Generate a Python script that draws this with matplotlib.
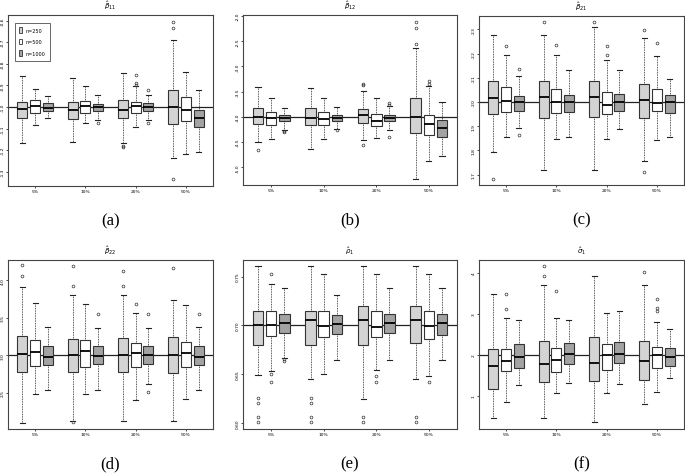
import matplotlib
matplotlib.use('Agg')
import matplotlib.pyplot as plt
from matplotlib.patches import Patch

# groups and sample sizes
groups = ['5%', '10%', '20%', '50%']
sizes = ['n=250', 'n=500', 'n=1000']
box_colors = ['#d3d3d3', '#ffffff', '#a3a3a3']

# order of boxes: 5% (250,500,1000), 10% (...), 20% (...), 50% (...)
# panel (a) beta11
a_lo = [-1.167, -1.082, -1.051, -1.163, -1.075, -1.059, -1.168, -1.094, -1.059, -1.238, -1.218, -1.207]
a_q1 = [-1.052, -1.029, -1.017, -1.056, -1.029, -1.019, -1.051, -1.029, -1.019, -1.080, -1.065, -1.091]
a_med = [-1.009, -0.997, -1.005, -1.012, -0.997, -1.001, -1.012, -0.997, -1.001, -1.001, -1.014, -1.051]
a_q3 = [-0.975, -0.968, -0.983, -0.978, -0.974, -0.988, -0.966, -0.977, -0.983, -0.923, -0.955, -1.015]
a_hi = [-0.858, -0.917, -0.950, -0.867, -0.904, -0.946, -0.843, -0.904, -0.943, -0.690, -0.839, -0.920]
a_out = [[], [], [], [], [], [-1.075], [-1.179, -1.187], [-0.852, -0.890, -0.898], [-0.921, -1.075],
         [-0.605, -0.636, -1.333], [], []]
a_ticks = [-1.3, -1.2, -1.1, -1.0, -0.9, -0.8, -0.7, -0.6]
a_ticklabels = ['-1.3', '-1.2', '-1.1', '-1.0', '-0.9', '-0.8', '-0.7', '-0.6']

# panel (b) beta12
b_lo = [-4.50, -4.44, -4.25, -4.63, -4.44, -4.24, -4.46, -4.42, -4.26, -5.23, -4.88, -4.78]
b_q1 = [-4.14, -4.16, -4.09, -4.16, -4.16, -4.09, -4.12, -4.18, -4.09, -4.32, -4.36, -4.39]
b_med = [-4.01, -4.02, -4.02, -4.02, -4.04, -4.03, -3.97, -4.09, -4.02, -4.01, -4.14, -4.22]
b_q3 = [-3.83, -3.91, -3.97, -3.83, -3.91, -3.97, -3.84, -3.95, -3.97, -3.63, -3.97, -4.07]
b_hi = [-3.41, -3.62, -3.83, -3.43, -3.62, -3.81, -3.48, -3.62, -3.79, -2.64, -3.39, -3.71]
b_out = [[-4.65], [], [-4.27, -4.29], [], [], [-4.26], [-3.35, -3.37, -4.56], [], [-3.73, -3.76, -4.39],
         [-2.12, -2.23, -2.55], [-3.29, -3.35], []]
b_ticks = [-5.0, -4.5, -4.0, -3.5, -3.0, -2.5, -2.0]
b_ticklabels = ['-5.0', '-4.5', '-4.0', '-3.5', '-3.0', '-2.5', '-2.0']

# panel (c) beta21
c_lo = [1.795, 1.854, 1.893, 1.719, 1.847, 1.857, 1.719, 1.847, 1.890, 1.756, 1.844, 1.854]
c_q1 = [1.950, 1.960, 1.962, 1.934, 1.953, 1.957, 1.939, 1.950, 1.964, 1.934, 1.962, 1.953]
c_med = [2.017, 2.003, 2.001, 2.019, 1.999, 1.999, 2.019, 1.989, 1.999, 2.008, 1.996, 1.999]
c_q3 = [2.088, 2.063, 2.024, 2.087, 2.054, 2.029, 2.088, 2.043, 2.033, 2.074, 2.054, 2.029]
c_hi = [2.278, 2.195, 2.109, 2.277, 2.195, 2.133, 2.309, 2.175, 2.133, 2.263, 2.189, 2.096]
c_out = [[1.682], [2.233], [2.135, 1.864], [2.329], [2.236], [], [2.329], [2.233, 2.194], [],
         [2.298, 1.709], [2.243], []]
c_ticks = [1.7, 1.8, 1.9, 2.0, 2.1, 2.2, 2.3]
c_ticklabels = ['1.7', '1.8', '1.9', '2.0', '2.1', '2.2', '2.3']

# panel (d) beta22
d_lo = [2.10, 2.48, 2.54, 2.13, 2.48, 2.54, 2.12, 2.40, 2.62, 2.12, 2.42, 2.54]
d_q1 = [2.78, 2.86, 2.87, 2.78, 2.85, 2.88, 2.78, 2.85, 2.88, 2.76, 2.84, 2.87]
d_med = [3.02, 3.04, 2.98, 3.00, 3.06, 2.99, 3.01, 3.03, 3.01, 3.01, 3.03, 2.98]
d_q3 = [3.26, 3.21, 3.12, 3.22, 3.20, 3.12, 3.23, 3.17, 3.12, 3.24, 3.18, 3.12]
d_hi = [3.91, 3.70, 3.38, 3.81, 3.69, 3.37, 3.80, 3.57, 3.37, 3.74, 3.67, 3.38]
d_out = [[4.20, 4.06], [], [], [4.19, 3.92, 2.11], [], [3.55], [4.13, 3.92], [3.69], [3.55, 2.51],
         [4.16], [], [3.55]]
d_ticks = [2.5, 3.0, 3.5, 4.0]
d_ticklabels = ['2.5', '3.0', '3.5', '4.0']

# panel (e) rho1
e_lo = [0.6493, 0.6538, 0.6670, 0.6456, 0.6500, 0.6643, 0.6252, 0.6544, 0.6643, 0.6456, 0.6483, 0.6643]
e_q1 = [0.6803, 0.6891, 0.6925, 0.6803, 0.6881, 0.6915, 0.6803, 0.6881, 0.6925, 0.6823, 0.6864, 0.6901]
e_med = [0.7000, 0.7000, 0.7027, 0.7054, 0.6997, 0.7010, 0.7054, 0.6983, 0.7027, 0.7054, 0.6990, 0.7020]
e_q3 = [0.7153, 0.7143, 0.7119, 0.7153, 0.7143, 0.7105, 0.7204, 0.7143, 0.7122, 0.7204, 0.7143, 0.7122]
e_hi = [0.7605, 0.7425, 0.7381, 0.7605, 0.7527, 0.7313, 0.7605, 0.7527, 0.7381, 0.7605, 0.7527, 0.7381]
e_out = [[0.6255, 0.6204, 0.6058, 0.6007], [0.7527, 0.6500, 0.6422], [0.6653, 0.6636],
         [0.6255, 0.6204, 0.6058, 0.6007], [], [],
         [0.6058, 0.6007], [0.6483, 0.6422], [],
         [0.6058, 0.6007], [0.6422], []]
e_ticks = [0.60, 0.65, 0.70, 0.75]
e_ticklabels = ['0.60', '0.65', '0.70', '0.75']

# panel (f) sigma1
f_lo = [0.46, 0.86, 1.26, 0.46, 1.08, 1.31, 0.38, 1.08, 1.29, 0.82, 1.09, 1.43]
f_q1 = [1.18, 1.61, 1.69, 1.35, 1.59, 1.79, 1.37, 1.64, 1.80, 1.40, 1.69, 1.73]
f_med = [1.72, 1.86, 1.95, 1.77, 1.89, 2.03, 1.81, 1.99, 2.02, 1.85, 1.99, 1.95]
f_q3 = [2.14, 2.15, 2.26, 2.34, 2.18, 2.29, 2.44, 2.26, 2.31, 2.34, 2.19, 2.17]
f_hi = [3.48, 2.90, 2.86, 3.71, 2.90, 2.86, 3.91, 3.02, 3.07, 3.71, 2.81, 2.64]
f_out = [[], [3.48, 3.12], [], [4.17, 3.91], [3.55], [], [], [], [], [4.01], [3.36, 3.15, 3.08], []]
f_ticks = [1, 2, 3, 4]
f_ticklabels = ['1', '2', '3', '4']

true_vals = [-1.0, -4.0, 2.0, 3.0, 0.70, 2.0]
titles = [r'$\hat{\beta}_{11}$', r'$\hat{\beta}_{12}$', r'$\hat{\beta}_{21}$',
          r'$\hat{\beta}_{22}$', r'$\hat{\rho}_{1}$', r'$\hat{\sigma}_{1}$']
letters = ['(a)', '(b)', '(c)', '(d)', '(e)', '(f)']

panels = [
    (a_lo, a_q1, a_med, a_q3, a_hi, a_out, a_ticks, a_ticklabels, (-1.366, -0.574)),
    (b_lo, b_q1, b_med, b_q3, b_hi, b_out, b_ticks, b_ticklabels, (-5.35, -1.98)),
    (c_lo, c_q1, c_med, c_q3, c_hi, c_out, c_ticks, c_ticklabels, (1.657, 2.355)),
    (d_lo, d_q1, d_med, d_q3, d_hi, d_out, d_ticks, d_ticklabels, (2.02, 4.27)),
    (e_lo, e_q1, e_med, e_q3, e_hi, e_out, e_ticks, e_ticklabels, (0.594, 0.767)),
    (f_lo, f_q1, f_med, f_q3, f_hi, f_out, f_ticks, f_ticklabels, (0.20, 4.31)),
]

W, H = 685, 477
# axes boxes in pixels: left, right, top, bottom
boxes_px = [(8, 213, 16, 187), (243, 457, 16, 186), (479, 684, 17, 186),
            (8, 213, 261, 430), (243, 457, 261, 430), (479, 684, 261, 430)]

fig = plt.figure(figsize=(W / 100, H / 100), dpi=100)

positions = []
for g in range(4):
    for k in range(3):
        positions.append(1 + 4 * g + k)
group_centers = [2, 6, 10, 14]

for idx, (lo, q1, med, q3, hi, outs, ticks, ticklabels, ylim) in enumerate(panels):
    l, r, t, b = boxes_px[idx]
    ax = fig.add_axes([l / W, 1 - b / H, (r - l) / W, (b - t) / H])
    stats = []
    for i in range(12):
        stats.append({'whislo': lo[i], 'q1': q1[i], 'med': med[i], 'q3': q3[i],
                      'whishi': hi[i], 'fliers': outs[i]})
    ax.axhline(true_vals[idx], color='#222222', lw=0.9, zorder=1)
    bp = ax.bxp(stats, positions=positions, widths=0.8, patch_artist=True,
                showfliers=True,
                boxprops=dict(edgecolor='#333333', linewidth=0.8),
                medianprops=dict(color='black', linewidth=1.3),
                whiskerprops=dict(color='#222222', linewidth=0.6, linestyle=(0, (1, 1))),
                capprops=dict(color='#222222', linewidth=0.8),
                flierprops=dict(marker='o', markersize=2, markerfacecolor='none',
                                markeredgecolor='#333333', markeredgewidth=0.5))
    for i, patch in enumerate(bp['boxes']):
        patch.set_facecolor(box_colors[i % 3])
        patch.set_zorder(2)
    ax.set_xlim(-0.15, 16.15)
    ax.set_ylim(*ylim)
    ax.set_xticks(group_centers)
    ax.set_xticklabels(groups)
    ax.set_yticks(ticks)
    ax.set_yticklabels(ticklabels, rotation=90, va='center')
    ax.tick_params(labelsize=3.2, length=1.5, width=0.5, pad=0.8)
    for sp in ax.spines.values():
        sp.set_color('#444444')
        sp.set_linewidth(0.8)
    ax.set_title(titles[idx], fontsize=5, pad=5)
    fig.text((l + r) / 2 / W, 1 - (b + 34) / H, letters[idx],
             family='Liberation Serif', fontsize=12, ha='center', va='center')
    if idx == 0:
        handles = [Patch(facecolor=c, edgecolor='#333333', linewidth=0.6) for c in box_colors]
        leg = ax.legend(handles, sizes, loc='upper left', fontsize=3.5,
                        handlelength=0.5, handleheight=1.4, labelspacing=1.2,
                        borderpad=1.0, handletextpad=0.8, fancybox=False,
                        bbox_to_anchor=(0.02, 0.97))
        leg.get_frame().set_edgecolor('#222222')
        leg.get_frame().set_linewidth(0.6)

fig.savefig('out.png', dpi=100)
